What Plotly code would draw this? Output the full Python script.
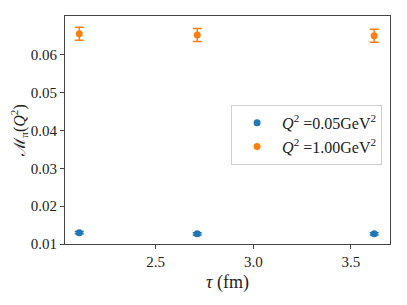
import plotly.graph_objects as go

tau = [2.109, 2.713, 3.619]
m_q005 = [0.0130, 0.0127, 0.0127]
err_q005 = [0.0003, 0.0003, 0.0003]
m_q100 = [0.0655, 0.0652, 0.0650]
err_q100 = [0.0017, 0.0017, 0.0017]

labels = ["<i>Q</i><sup>2</sup> =0.05GeV<sup>2</sup>", "<i>Q</i><sup>2</sup> =1.00GeV<sup>2</sup>"]
colors = ["#1f77b4", "#ff7f0e"]

FONT = "Liberation Serif, Times New Roman, DejaVu Serif, serif"

fig = go.Figure()
for y, e, lab, c in [(m_q005, err_q005, labels[0], colors[0]), (m_q100, err_q100, labels[1], colors[1])]:
    fig.add_trace(go.Scatter(
        x=tau, y=y, mode="markers", name=lab,
        marker=dict(color=c, size=7),
        error_y=dict(type="data", array=e, visible=True, color=c, thickness=1.5, width=4.5),
    ))

fig.update_layout(
    width=399, height=297,
    margin=dict(l=57, r=17, t=8, b=61),
    paper_bgcolor="white", plot_bgcolor="white",
    font=dict(family=FONT, size=15, color="#222"),
    showlegend=True,
    legend=dict(x=0.511, y=0.61, xanchor="left", yanchor="top", itemwidth=40,
                bordercolor="#d0d0d0", borderwidth=1, bgcolor="rgba(255,255,255,0.8)",
                font=dict(family=FONT, size=16)),
)
fig.update_xaxes(range=[2.036, 3.70], tickvals=[2.5, 3.0, 3.5], ticktext=["2.5", "3.0", "3.5"],
                 showgrid=False, zeroline=False, showline=True, linecolor="#444", linewidth=1,
                 mirror=True, ticks="outside", ticklen=4, tickcolor="#444",
                 title=dict(text="<i>τ</i> (fm)", font=dict(family=FONT, size=18), standoff=6))
fig.update_yaxes(range=[0.01, 0.0702], tickvals=[0.01, 0.02, 0.03, 0.04, 0.05, 0.06],
                 ticktext=["0.01", "0.02", "0.03", "0.04", "0.05", "0.06"],
                 showgrid=False, zeroline=False, showline=True, linecolor="#444", linewidth=1,
                 mirror=True, ticks="outside", ticklen=4, tickcolor="#444",
                 title=dict(text="ℳ<sub>π</sub>(<i>Q</i><sup>2</sup>)", font=dict(family=FONT, size=16), standoff=4))

fig.write_html("out.html")
